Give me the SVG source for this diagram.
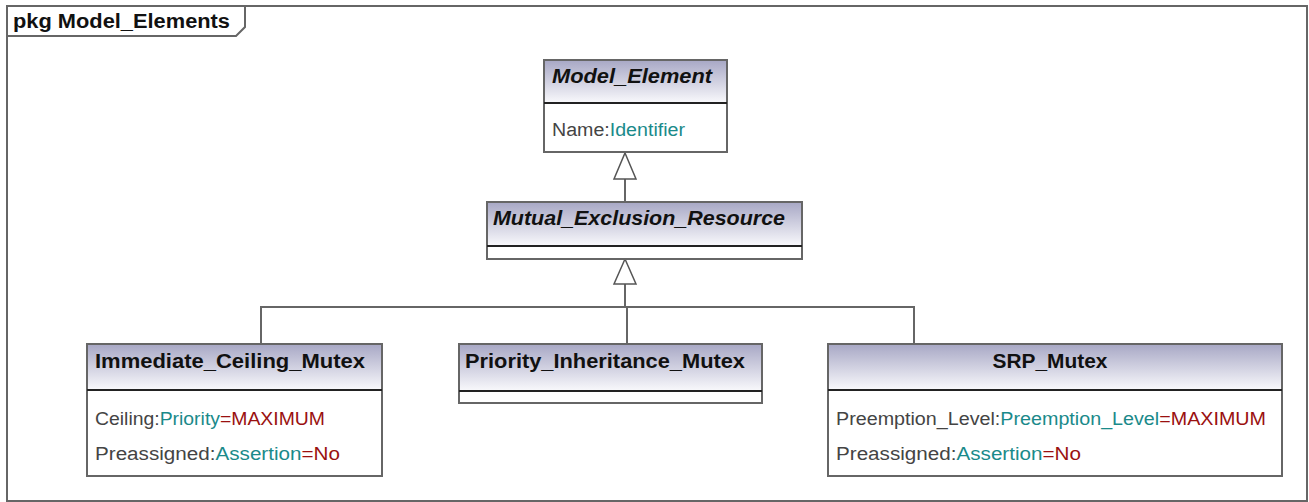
<svg xmlns="http://www.w3.org/2000/svg" width="1309" height="502" viewBox="0 0 1309 502">
  <defs>
    <linearGradient id="hdr" x1="0" y1="0" x2="0" y2="1">
      <stop offset="0" stop-color="#a9a9c6"/>
      <stop offset="1" stop-color="#f9f9fc"/>
    </linearGradient>
    <style>
      .frame { fill: #fff; stroke: #666; stroke-width: 2; }
      .box { fill: #fff; stroke: #666; stroke-width: 2; }
      .div { stroke: #222; stroke-width: 2; }
      .edge { fill: none; stroke: #666; stroke-width: 2; }
      .head { fill: #fff; stroke: #555; stroke-width: 1.5; }
      .title { font-family: "Liberation Sans", Arial, sans-serif; font-weight: bold; font-size: 20px; fill: #111; }
      .abs { font-style: italic; }
      .attr { font-family: "Liberation Sans", Arial, sans-serif; font-size: 18px; fill: #444; }
      .t { fill: #1a8a8a; }
      .v { fill: #9a1010; }
    </style>
  </defs>

  <!-- package frame with name tab -->
  <g id="pkg">
    <rect class="frame" x="7" y="6" width="1300" height="495"/>
    <path class="edge" d="M7 36 H236 L245 27 V6"/>
    <text class="title" x="13" y="28" font-size="19" textLength="217" lengthAdjust="spacingAndGlyphs">pkg Model_Elements</text>
  </g>

  <!-- generalization connectors (hollow triangle at the parent end) -->
  <g id="connectors">
    <path class="edge" d="M625 202 V179"/>
    <polygon class="head" points="625,153 636,179 614,179"/>
    <path class="edge" d="M625 307 V284 M627 307 V344 M261 344 V307 H914 V344"/>
    <polygon class="head" points="625,259 636,284 614,284"/>
  </g>

  <g id="model_element">
    <rect class="box" x="544" y="60" width="183" height="92"/>
    <rect x="545" y="61" width="181" height="42" fill="url(#hdr)"/>
    <line class="div" x1="544" y1="103" x2="727" y2="103"/>
    <text class="title abs" x="552" y="83" textLength="160" lengthAdjust="spacingAndGlyphs">Model_Element</text>
    <text class="attr" x="552" y="136" textLength="133" lengthAdjust="spacingAndGlyphs">Name:<tspan class="t">Identifier</tspan></text>
  </g>

  <g id="mutual_exclusion_resource">
    <rect class="box" x="487" y="202" width="315" height="57"/>
    <rect x="488" y="203" width="313" height="43" fill="url(#hdr)"/>
    <line class="div" x1="487" y1="246" x2="802" y2="246"/>
    <text class="title abs" x="493" y="225" textLength="292" lengthAdjust="spacingAndGlyphs">Mutual_Exclusion_Resource</text>
  </g>

  <g id="immediate_ceiling_mutex">
    <rect class="box" x="87" y="344" width="295" height="132"/>
    <rect x="88" y="345" width="293" height="45" fill="url(#hdr)"/>
    <line class="div" x1="87" y1="390" x2="382" y2="390"/>
    <text class="title" x="95" y="368" textLength="270" lengthAdjust="spacingAndGlyphs">Immediate_Ceiling_Mutex</text>
    <text class="attr" x="95" y="425" textLength="230" lengthAdjust="spacingAndGlyphs">Ceiling:<tspan class="t">Priority</tspan><tspan class="v">=MAXIMUM</tspan></text>
    <text class="attr" x="95" y="460" textLength="245" lengthAdjust="spacingAndGlyphs">Preassigned:<tspan class="t">Assertion</tspan><tspan class="v">=No</tspan></text>
  </g>

  <g id="priority_inheritance_mutex">
    <rect class="box" x="459" y="344" width="303" height="59"/>
    <rect x="460" y="345" width="301" height="46" fill="url(#hdr)"/>
    <line class="div" x1="459" y1="391" x2="762" y2="391"/>
    <text class="title" x="465" y="368" textLength="280" lengthAdjust="spacingAndGlyphs">Priority_Inheritance_Mutex</text>
  </g>

  <g id="srp_mutex">
    <rect class="box" x="828" y="344" width="454" height="132"/>
    <rect x="829" y="345" width="452" height="45" fill="url(#hdr)"/>
    <line class="div" x1="828" y1="390" x2="1282" y2="390"/>
    <text class="title" x="1050" y="368" text-anchor="middle" textLength="115" lengthAdjust="spacingAndGlyphs">SRP_Mutex</text>
    <text class="attr" x="836" y="425" textLength="430" lengthAdjust="spacingAndGlyphs">Preemption_Level:<tspan class="t">Preemption_Level</tspan><tspan class="v">=MAXIMUM</tspan></text>
    <text class="attr" x="836" y="460" textLength="245" lengthAdjust="spacingAndGlyphs">Preassigned:<tspan class="t">Assertion</tspan><tspan class="v">=No</tspan></text>
  </g>
</svg>
